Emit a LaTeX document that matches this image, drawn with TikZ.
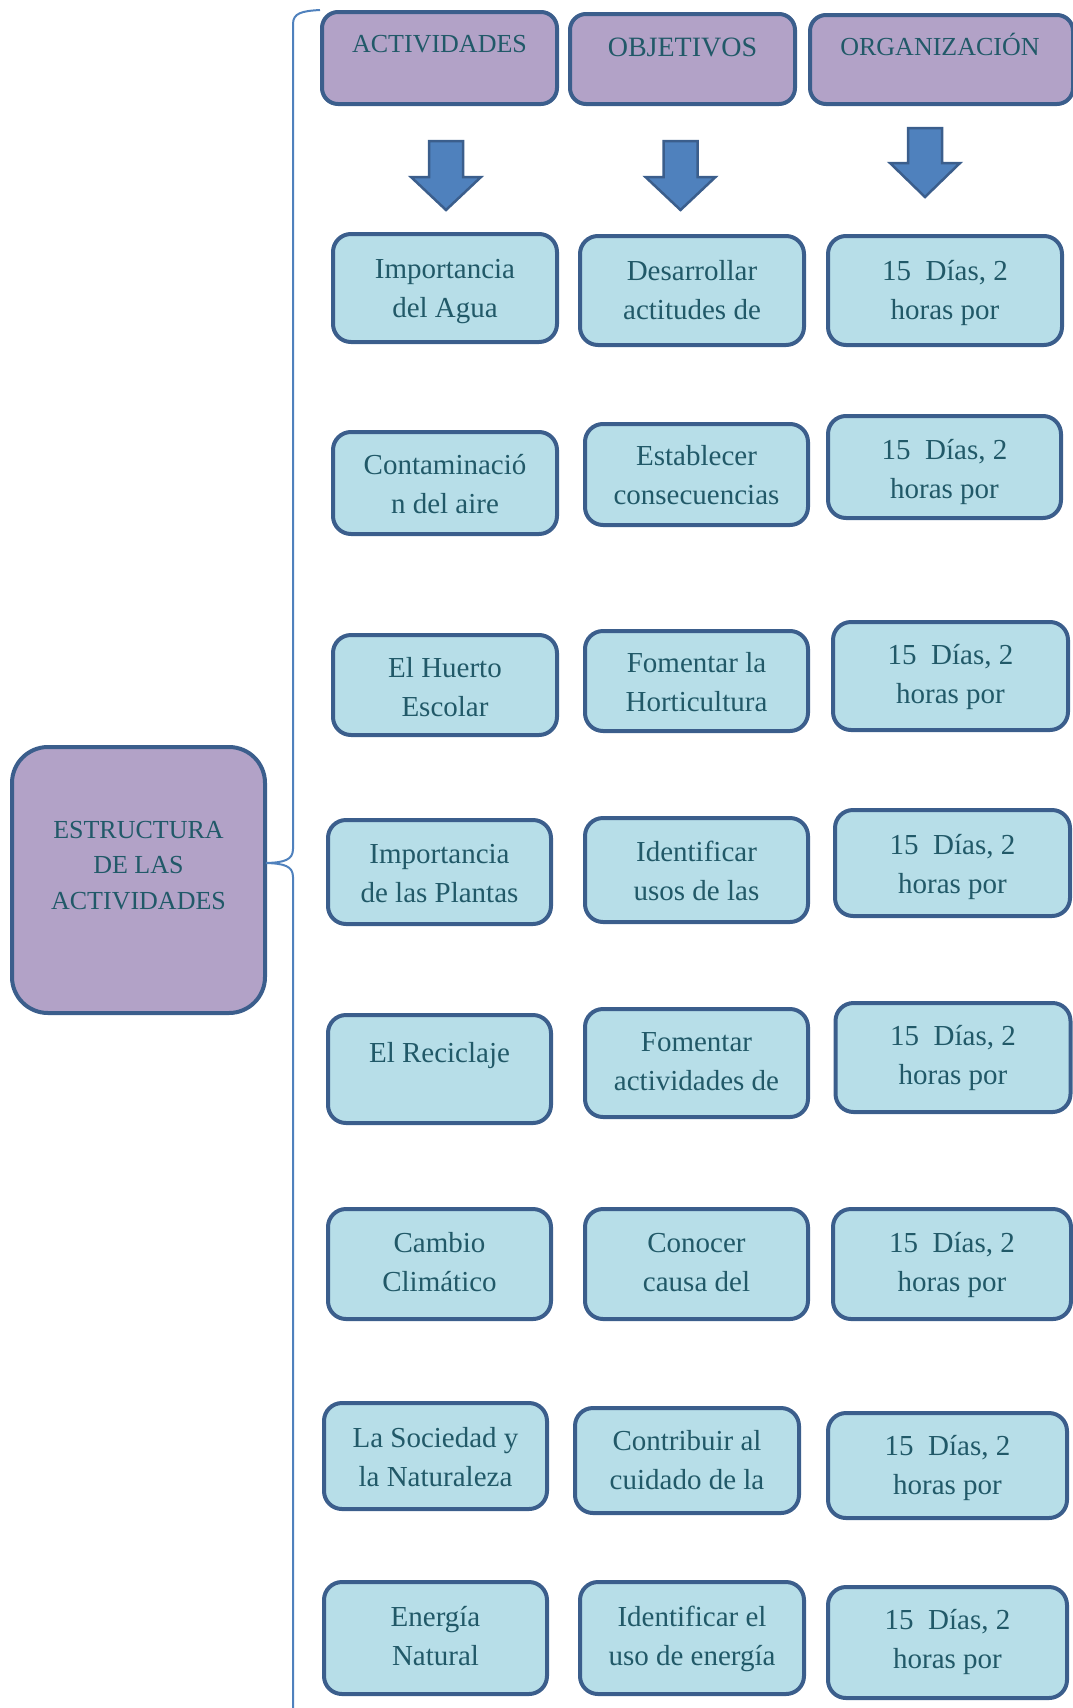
\documentclass[tikz,border=0pt]{standalone}
\usepackage{fontspec}
\setmainfont{Liberation Serif}
\definecolor{lav}{HTML}{B2A2C7}
\definecolor{aqua}{HTML}{B7DEE8}
\definecolor{bord}{HTML}{3B5E8C}
\definecolor{txtc}{HTML}{215968}
\definecolor{arrf}{HTML}{4F81BD}
\definecolor{brc}{HTML}{4F81BD}
\newcommand\cell[7]{%
  \node[box, minimum width=#4pt-4pt, minimum height=#5pt-4pt] (#1) at (#2,#3) {};
  \node[txt] (#1t) at (#2,#6-18.3) {\strut #7\strut};}
\newcommand\darrow[5]{%
  \draw[barrow] (#2-17,#3) -- (#2+17,#3) -- (#2+17,#4) -- (#2+35,#4) -- (#2,#5)
    -- (#2-35,#4) -- (#2-17,#4) -- cycle;
  \coordinate (#1) at (#2,#5);}
\begin{document}
\begin{tikzpicture}[x=1pt,y=-1pt,
  box/.style={draw=bord, line width=4pt, fill=aqua, rounded corners=18pt, inner sep=0pt},
  hbox/.style={box, fill=lav, rounded corners=16pt},
  mbox/.style={box, fill=lav, rounded corners=36pt},
  txt/.style={text=txtc, font=\fontsize{29}{39}\selectfont, align=center, inner sep=0pt, anchor=north},
  htxt/.style={text=txtc, font=\fontsize{26}{31}\selectfont, inner sep=0pt, anchor=base},
  barrow/.style={fill=arrf, draw=bord, line width=2.5pt, line join=miter},
  brace/.style={draw=brc, line width=2pt}]
\useasboundingbox (0,0) rectangle (1073,1708);
\clip (0,0) rectangle (1073,1708);
% headers
\node[hbox, minimum width=235pt, minimum height=92pt] (h1) at (439.5,58) {};
\node[htxt] (h1t) at (439.5,52) {ACTIVIDADES};
\node[hbox, minimum width=225pt, minimum height=90pt] (h2) at (682.5,59) {};
\node[htxt, font=\fontsize{28}{33}\selectfont] (h2t) at (682.5,56) {OBJETIVOS};
\node[hbox, minimum width=263pt, minimum height=89pt] (h3) at (941.5,59.5) {};
\node[htxt] (h3t) at (940,55.6) {ORGANIZACIÓN};
% arrows
\darrow{ar1}{446}{141}{177}{210}
\darrow{ar2}{680.5}{141}{177}{210}
\darrow{ar3}{925}{128}{163}{197}
% main box
\node[mbox, minimum width=253pt, minimum height=266pt] (main) at (138.5,880) {};
\node[txt, font=\fontsize{26}{35.5}\selectfont] (maint) at (138.5,813) {\strut ESTRUCTURA\\DE LAS\\ACTIVIDADES\strut};
% brace
\coordinate (cusp) at (266,863);
\coordinate (btop) at (320,10);
\coordinate (bbot) at (293,1720);
\draw[brace] (btop) .. controls (302,11) and (293,13) .. (293,24) -- (293,849)
  .. controls (293,860) and (284,862.5) .. (cusp)
  .. controls (284,863.5) and (293,866) .. (293,877) -- (bbot);
% rows
\cell{a1}{445}{288}{228}{112}{269}{Importancia\\del Agua}
\cell{b1}{692}{290.5}{228}{113}{271}{Desarrollar\\actitudes de}
\cell{c1}{945}{290.5}{238}{113}{271}{15\ \ Días, 2\\horas por}
\cell{a2}{445}{483}{228}{106}{465}{Contaminació\\n del aire}
\cell{b2}{696.5}{474.5}{227}{105}{456}{Establecer\\consecuencias}
\cell{c2}{944.5}{467}{237}{106}{450}{15\ \ Días, 2\\horas por}
\cell{a3}{445}{685}{228}{104}{668}{El Huerto\\Escolar}
\cell{b3}{696.5}{681}{227}{104}{663}{Fomentar la\\Horticultura}
\cell{c3}{950.5}{676}{239}{112}{655}{15\ \ Días, 2\\horas por}
\cell{a4}{439.5}{872}{227}{108}{854}{Importancia\\de las Plantas}
\cell{b4}{696.5}{870}{227}{108}{852}{Identificar\\usos de las}
\cell{c4}{952.5}{863}{239}{110}{845}{15\ \ Días, 2\\horas por}
\cell{a5}{439.5}{1069}{227}{112}{1053}{El Reciclaje}
\cell{b5}{696.5}{1063}{227}{112}{1042}{Fomentar\\actividades de}
\cell{c5}{953}{1057.5}{239}{113}{1036}{15\ \ Días, 2\\horas por}
\cell{a6}{439.5}{1264}{227}{114}{1243}{Cambio\\Climático}
\cell{b6}{696.5}{1264}{227}{114}{1243}{Conocer\\causa del}
\cell{c6}{952}{1264}{242}{114}{1243}{15\ \ Días, 2\\horas por}
\cell{a7}{435.5}{1456}{227}{110}{1438}{La Sociedad y\\la Naturaleza}
\cell{b7}{687}{1460.5}{228}{109}{1441}{Contribuir al\\cuidado de la}
\cell{c7}{947.5}{1465.5}{243}{109}{1446}{15\ \ Días, 2\\horas por}
\cell{a8}{435.5}{1638}{227}{116}{1617}{Energía\\Natural}
\cell{b8}{692}{1638}{228}{116}{1617}{Identificar el\\uso de energía}
\cell{c8}{947.5}{1642.5}{243}{115}{1620}{15\ \ Días, 2\\horas por}
\end{tikzpicture}
\end{document}
